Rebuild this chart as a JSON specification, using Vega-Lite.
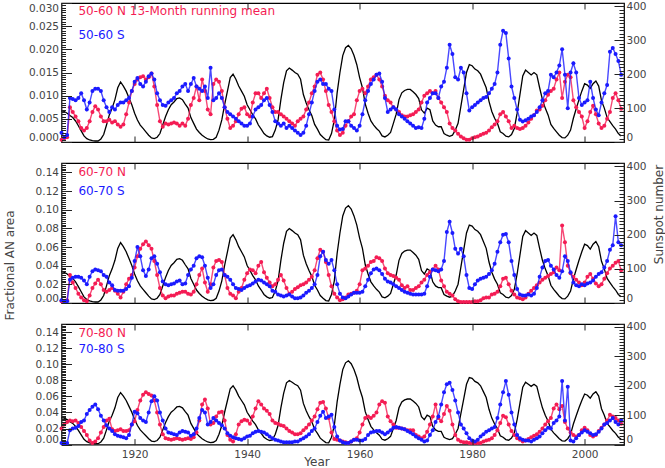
{
"$schema":"https://vega.github.io/schema/vega-lite/v6.json",
"padding":{"left":2.5,"top":0,"right":0,"bottom":0},
"background":"white",
"bounds":"flush",
"spacing":21,
"config":{
"view":{"stroke":"#000","strokeWidth":1.2},
"axis":{"grid":false,"domain":false,"ticks":true,"tickColor":"#222","tickWidth":1,"labelFont":"DejaVu Sans","labelFontSize":10.5,"labelColor":"#444","titleFont":"DejaVu Sans","titleFontSize":12,"titleFontWeight":"normal","titleColor":"#444"}
},
"data":{"values":[
{"t":1907.0,"ssn":92,"n5":0.0005,"s5":0.002,"n6":0.002,"s6":0.003,"n7":0.02,"s7":0.002},
{"t":1907.5,"ssn":90,"n5":0.0008,"s5":0.001,"n6":0.002,"s6":0.002,"n7":0.025,"s7":0.001},
{"t":1908.0,"ssn":85,"n5":0.001,"s5":0.0015,"n6":0.003,"s6":0.002,"n7":0.028,"s7":0.002},
{"t":1908.5,"ssn":78,"n5":0.0075,"s5":0.0095,"n6":0.03,"s6":0.025,"n7":0.03,"s7":0.018},
{"t":1909.0,"ssn":72,"n5":0.0065,"s5":0.0093,"n6":0.022,"s6":0.027,"n7":0.029,"s7":0.02},
{"t":1909.5,"ssn":62,"n5":0.0055,"s5":0.009,"n6":0.016,"s6":0.028,"n7":0.03,"s7":0.021},
{"t":1910.0,"ssn":48,"n5":0.0045,"s5":0.0095,"n6":0.01,"s6":0.028,"n7":0.027,"s7":0.023},
{"t":1910.5,"ssn":33,"n5":0.003,"s5":0.0105,"n6":0.006,"s6":0.027,"n7":0.022,"s7":0.028},
{"t":1911.0,"ssn":18,"n5":0.0025,"s5":0.009,"n6":0.003,"s6":0.024,"n7":0.017,"s7":0.03},
{"t":1911.5,"ssn":10,"n5":0.003,"s5":0.007,"n6":0.002,"s6":0.02,"n7":0.012,"s7":0.038},
{"t":1912.0,"ssn":6,"n5":0.0045,"s5":0.0085,"n6":0.008,"s6":0.028,"n7":0.005,"s7":0.043},
{"t":1912.5,"ssn":4,"n5":0.0065,"s5":0.011,"n6":0.016,"s6":0.034,"n7":0.002,"s7":0.047},
{"t":1913.0,"ssn":3,"n5":0.0077,"s5":0.0115,"n6":0.021,"s6":0.036,"n7":0.004,"s7":0.05},
{"t":1913.5,"ssn":3,"n5":0.007,"s5":0.0115,"n6":0.025,"s6":0.035,"n7":0.008,"s7":0.044},
{"t":1914.0,"ssn":9,"n5":0.0055,"s5":0.011,"n6":0.02,"s6":0.034,"n7":0.015,"s7":0.036},
{"t":1914.5,"ssn":22,"n5":0.0045,"s5":0.009,"n6":0.014,"s6":0.03,"n7":0.022,"s7":0.03},
{"t":1915.0,"ssn":50,"n5":0.0045,"s5":0.0075,"n6":0.012,"s6":0.028,"n7":0.03,"s7":0.024},
{"t":1915.5,"ssn":80,"n5":0.0048,"s5":0.0065,"n6":0.014,"s6":0.022,"n7":0.032,"s7":0.02},
{"t":1916.0,"ssn":100,"n5":0.0042,"s5":0.0075,"n6":0.016,"s6":0.019,"n7":0.019,"s7":0.017},
{"t":1916.5,"ssn":125,"n5":0.0045,"s5":0.007,"n6":0.013,"s6":0.014,"n7":0.017,"s7":0.013},
{"t":1917.0,"ssn":160,"n5":0.0038,"s5":0.008,"n6":0.01,"s6":0.013,"n7":0.018,"s7":0.011},
{"t":1917.5,"ssn":177,"n5":0.0033,"s5":0.0085,"n6":0.006,"s6":0.013,"n7":0.019,"s7":0.01},
{"t":1918.0,"ssn":165,"n5":0.0038,"s5":0.0085,"n6":0.012,"s6":0.013,"n7":0.017,"s7":0.009},
{"t":1918.5,"ssn":150,"n5":0.006,"s5":0.009,"n6":0.02,"s6":0.015,"n7":0.017,"s7":0.008},
{"t":1919.0,"ssn":130,"n5":0.0085,"s5":0.0095,"n6":0.026,"s6":0.018,"n7":0.018,"s7":0.012},
{"t":1919.5,"ssn":110,"n5":0.011,"s5":0.011,"n6":0.03,"s6":0.027,"n7":0.025,"s7":0.025},
{"t":1920.0,"ssn":85,"n5":0.0125,"s5":0.013,"n6":0.038,"s6":0.045,"n7":0.029,"s7":0.041},
{"t":1920.5,"ssn":65,"n5":0.0135,"s5":0.0138,"n6":0.05,"s6":0.06,"n7":0.043,"s7":0.039},
{"t":1921.0,"ssn":50,"n5":0.014,"s5":0.0125,"n6":0.058,"s6":0.05,"n7":0.055,"s7":0.033},
{"t":1921.5,"ssn":40,"n5":0.0142,"s5":0.012,"n6":0.063,"s6":0.035,"n7":0.062,"s7":0.03},
{"t":1922.0,"ssn":30,"n5":0.0135,"s5":0.013,"n6":0.066,"s6":0.029,"n7":0.065,"s7":0.028},
{"t":1922.5,"ssn":20,"n5":0.014,"s5":0.0142,"n6":0.062,"s6":0.036,"n7":0.063,"s7":0.04},
{"t":1923.0,"ssn":12,"n5":0.0148,"s5":0.0148,"n6":0.058,"s6":0.048,"n7":0.061,"s7":0.054},
{"t":1923.5,"ssn":10,"n5":0.012,"s5":0.0135,"n6":0.045,"s6":0.05,"n7":0.055,"s7":0.06},
{"t":1924.0,"ssn":14,"n5":0.008,"s5":0.0105,"n6":0.03,"s6":0.042,"n7":0.04,"s7":0.055},
{"t":1924.5,"ssn":25,"n5":0.0045,"s5":0.009,"n6":0.016,"s6":0.033,"n7":0.025,"s7":0.04},
{"t":1925.0,"ssn":50,"n5":0.0033,"s5":0.008,"n6":0.008,"s6":0.023,"n7":0.013,"s7":0.03},
{"t":1925.5,"ssn":75,"n5":0.004,"s5":0.0078,"n6":0.005,"s6":0.02,"n7":0.008,"s7":0.02},
{"t":1926.0,"ssn":95,"n5":0.0038,"s5":0.0085,"n6":0.007,"s6":0.019,"n7":0.007,"s7":0.015},
{"t":1926.5,"ssn":110,"n5":0.004,"s5":0.009,"n6":0.008,"s6":0.02,"n7":0.006,"s7":0.014},
{"t":1927.0,"ssn":118,"n5":0.0042,"s5":0.0095,"n6":0.008,"s6":0.021,"n7":0.007,"s7":0.013},
{"t":1927.5,"ssn":128,"n5":0.004,"s5":0.0105,"n6":0.01,"s6":0.023,"n7":0.008,"s7":0.012},
{"t":1928.0,"ssn":130,"n5":0.0035,"s5":0.011,"n6":0.011,"s6":0.024,"n7":0.007,"s7":0.015},
{"t":1928.5,"ssn":125,"n5":0.004,"s5":0.012,"n6":0.012,"s6":0.02,"n7":0.006,"s7":0.017},
{"t":1929.0,"ssn":112,"n5":0.0035,"s5":0.0125,"n6":0.012,"s6":0.021,"n7":0.007,"s7":0.016},
{"t":1929.5,"ssn":100,"n5":0.005,"s5":0.011,"n6":0.01,"s6":0.03,"n7":0.008,"s7":0.015},
{"t":1930.0,"ssn":72,"n5":0.008,"s5":0.0125,"n6":0.009,"s6":0.036,"n7":0.007,"s7":0.011},
{"t":1930.5,"ssn":55,"n5":0.0095,"s5":0.0138,"n6":0.012,"s6":0.04,"n7":0.009,"s7":0.013},
{"t":1931.0,"ssn":38,"n5":0.012,"s5":0.012,"n6":0.02,"s6":0.048,"n7":0.015,"s7":0.02},
{"t":1931.5,"ssn":28,"n5":0.009,"s5":0.0115,"n6":0.03,"s6":0.05,"n7":0.03,"s7":0.033},
{"t":1932.0,"ssn":20,"n5":0.0135,"s5":0.011,"n6":0.037,"s6":0.049,"n7":0.05,"s7":0.043},
{"t":1932.5,"ssn":14,"n5":0.011,"s5":0.012,"n6":0.022,"s6":0.04,"n7":0.056,"s7":0.04},
{"t":1933.0,"ssn":9,"n5":0.007,"s5":0.0095,"n6":0.012,"s6":0.027,"n7":0.045,"s7":0.025},
{"t":1933.5,"ssn":7,"n5":0.006,"s5":0.016,"n6":0.02,"s6":0.016,"n7":0.025,"s7":0.028},
{"t":1934.0,"ssn":8,"n5":0.0125,"s5":0.009,"n6":0.038,"s6":0.02,"n7":0.027,"s7":0.033},
{"t":1934.5,"ssn":14,"n5":0.0135,"s5":0.0095,"n6":0.045,"s6":0.03,"n7":0.035,"s7":0.03},
{"t":1935.0,"ssn":35,"n5":0.013,"s5":0.0105,"n6":0.046,"s6":0.035,"n7":0.04,"s7":0.027},
{"t":1935.5,"ssn":65,"n5":0.011,"s5":0.0095,"n6":0.044,"s6":0.036,"n7":0.041,"s7":0.024},
{"t":1936.0,"ssn":110,"n5":0.0075,"s5":0.0075,"n6":0.03,"s6":0.03,"n7":0.03,"s7":0.02},
{"t":1936.5,"ssn":150,"n5":0.005,"s5":0.0065,"n6":0.016,"s6":0.028,"n7":0.012,"s7":0.014},
{"t":1937.0,"ssn":190,"n5":0.003,"s5":0.006,"n6":0.01,"s6":0.025,"n7":0.006,"s7":0.011},
{"t":1937.5,"ssn":200,"n5":0.0035,"s5":0.0055,"n6":0.008,"s6":0.02,"n7":0.004,"s7":0.009},
{"t":1938.0,"ssn":185,"n5":0.0045,"s5":0.005,"n6":0.005,"s6":0.016,"n7":0.013,"s7":0.008},
{"t":1938.5,"ssn":165,"n5":0.006,"s5":0.0045,"n6":0.012,"s6":0.015,"n7":0.025,"s7":0.007},
{"t":1939.0,"ssn":150,"n5":0.0072,"s5":0.004,"n6":0.016,"s6":0.014,"n7":0.029,"s7":0.006},
{"t":1939.5,"ssn":135,"n5":0.0075,"s5":0.0035,"n6":0.025,"s6":0.016,"n7":0.031,"s7":0.008},
{"t":1940.0,"ssn":110,"n5":0.006,"s5":0.0035,"n6":0.032,"s6":0.018,"n7":0.03,"s7":0.01},
{"t":1940.5,"ssn":95,"n5":0.0055,"s5":0.004,"n6":0.036,"s6":0.019,"n7":0.026,"s7":0.011},
{"t":1941.0,"ssn":80,"n5":0.0085,"s5":0.0055,"n6":0.035,"s6":0.021,"n7":0.035,"s7":0.014},
{"t":1941.5,"ssn":68,"n5":0.0105,"s5":0.007,"n6":0.032,"s6":0.023,"n7":0.045,"s7":0.016},
{"t":1942.0,"ssn":50,"n5":0.0105,"s5":0.0075,"n6":0.04,"s6":0.025,"n7":0.054,"s7":0.017},
{"t":1942.5,"ssn":38,"n5":0.0095,"s5":0.008,"n6":0.044,"s6":0.024,"n7":0.05,"s7":0.016},
{"t":1943.0,"ssn":25,"n5":0.0105,"s5":0.009,"n6":0.033,"s6":0.022,"n7":0.045,"s7":0.015},
{"t":1943.5,"ssn":18,"n5":0.0115,"s5":0.0095,"n6":0.027,"s6":0.02,"n7":0.042,"s7":0.013},
{"t":1944.0,"ssn":14,"n5":0.0095,"s5":0.008,"n6":0.022,"s6":0.018,"n7":0.038,"s7":0.01},
{"t":1944.5,"ssn":16,"n5":0.0075,"s5":0.0065,"n6":0.018,"s6":0.013,"n7":0.03,"s7":0.008},
{"t":1945.0,"ssn":35,"n5":0.0065,"s5":0.0045,"n6":0.02,"s6":0.012,"n7":0.027,"s7":0.006},
{"t":1945.5,"ssn":65,"n5":0.0065,"s5":0.004,"n6":0.025,"s6":0.009,"n7":0.026,"s7":0.005},
{"t":1946.0,"ssn":125,"n5":0.006,"s5":0.0035,"n6":0.03,"s6":0.008,"n7":0.024,"s7":0.004},
{"t":1946.5,"ssn":175,"n5":0.0055,"s5":0.004,"n6":0.024,"s6":0.007,"n7":0.023,"s7":0.003},
{"t":1947.0,"ssn":210,"n5":0.005,"s5":0.003,"n6":0.016,"s6":0.008,"n7":0.02,"s7":0.003},
{"t":1947.5,"ssn":218,"n5":0.0045,"s5":0.0035,"n6":0.01,"s6":0.009,"n7":0.017,"s7":0.003},
{"t":1948.0,"ssn":212,"n5":0.004,"s5":0.003,"n6":0.012,"s6":0.007,"n7":0.015,"s7":0.003},
{"t":1948.5,"ssn":205,"n5":0.0035,"s5":0.0025,"n6":0.015,"s6":0.005,"n7":0.013,"s7":0.004},
{"t":1949.0,"ssn":200,"n5":0.0045,"s5":0.002,"n6":0.017,"s6":0.005,"n7":0.013,"s7":0.004},
{"t":1949.5,"ssn":185,"n5":0.005,"s5":0.0015,"n6":0.019,"s6":0.006,"n7":0.014,"s7":0.006},
{"t":1950.0,"ssn":140,"n5":0.0055,"s5":0.002,"n6":0.02,"s6":0.008,"n7":0.018,"s7":0.008},
{"t":1950.5,"ssn":115,"n5":0.007,"s5":0.0035,"n6":0.022,"s6":0.011,"n7":0.021,"s7":0.01},
{"t":1951.0,"ssn":95,"n5":0.0085,"s5":0.006,"n6":0.025,"s6":0.013,"n7":0.025,"s7":0.013},
{"t":1951.5,"ssn":78,"n5":0.0105,"s5":0.0085,"n6":0.028,"s6":0.016,"n7":0.03,"s7":0.017},
{"t":1952.0,"ssn":52,"n5":0.012,"s5":0.011,"n6":0.035,"s6":0.02,"n7":0.035,"s7":0.02},
{"t":1952.5,"ssn":38,"n5":0.0145,"s5":0.013,"n6":0.048,"s6":0.03,"n7":0.044,"s7":0.028},
{"t":1953.0,"ssn":22,"n5":0.015,"s5":0.0135,"n6":0.057,"s6":0.05,"n7":0.052,"s7":0.036},
{"t":1953.5,"ssn":14,"n5":0.0135,"s5":0.0125,"n6":0.055,"s6":0.055,"n7":0.053,"s7":0.041},
{"t":1954.0,"ssn":7,"n5":0.011,"s5":0.0125,"n6":0.044,"s6":0.046,"n7":0.045,"s7":0.033},
{"t":1954.5,"ssn":6,"n5":0.008,"s5":0.0115,"n6":0.03,"s6":0.042,"n7":0.033,"s7":0.035},
{"t":1955.0,"ssn":25,"n5":0.0065,"s5":0.011,"n6":0.018,"s6":0.046,"n7":0.015,"s7":0.037},
{"t":1955.5,"ssn":65,"n5":0.0045,"s5":0.007,"n6":0.01,"s6":0.035,"n7":0.007,"s7":0.022},
{"t":1956.0,"ssn":145,"n5":0.0025,"s5":0.0035,"n6":0.006,"s6":0.02,"n7":0.006,"s7":0.01},
{"t":1956.5,"ssn":205,"n5":0.0015,"s5":0.0027,"n6":0.003,"s6":0.01,"n7":0.005,"s7":0.005},
{"t":1957.0,"ssn":255,"n5":0.002,"s5":0.0028,"n6":0.004,"s6":0.006,"n7":0.004,"s7":0.003},
{"t":1957.5,"ssn":278,"n5":0.0035,"s5":0.0045,"n6":0.006,"s6":0.005,"n7":0.003,"s7":0.002},
{"t":1958.0,"ssn":285,"n5":0.0045,"s5":0.0045,"n6":0.009,"s6":0.007,"n7":0.002,"s7":0.002},
{"t":1958.5,"ssn":275,"n5":0.0055,"s5":0.0035,"n6":0.01,"s6":0.009,"n7":0.004,"s7":0.004},
{"t":1959.0,"ssn":255,"n5":0.006,"s5":0.003,"n6":0.011,"s6":0.011,"n7":0.006,"s7":0.006},
{"t":1959.5,"ssn":228,"n5":0.009,"s5":0.0025,"n6":0.013,"s6":0.011,"n7":0.008,"s7":0.006},
{"t":1960.0,"ssn":190,"n5":0.011,"s5":0.0035,"n6":0.02,"s6":0.011,"n7":0.015,"s7":0.005},
{"t":1960.5,"ssn":160,"n5":0.0115,"s5":0.006,"n6":0.035,"s6":0.012,"n7":0.025,"s7":0.005},
{"t":1961.0,"ssn":112,"n5":0.0105,"s5":0.009,"n6":0.037,"s6":0.018,"n7":0.033,"s7":0.007},
{"t":1961.5,"ssn":85,"n5":0.012,"s5":0.011,"n6":0.04,"s6":0.025,"n7":0.035,"s7":0.012},
{"t":1962.0,"ssn":62,"n5":0.0135,"s5":0.0125,"n6":0.044,"s6":0.032,"n7":0.033,"s7":0.015},
{"t":1962.5,"ssn":50,"n5":0.014,"s5":0.0135,"n6":0.045,"s6":0.036,"n7":0.036,"s7":0.016},
{"t":1963.0,"ssn":40,"n5":0.0145,"s5":0.0145,"n6":0.049,"s6":0.037,"n7":0.04,"s7":0.017},
{"t":1963.5,"ssn":32,"n5":0.0135,"s5":0.0148,"n6":0.048,"s6":0.035,"n7":0.05,"s7":0.017},
{"t":1964.0,"ssn":18,"n5":0.012,"s5":0.013,"n6":0.045,"s6":0.031,"n7":0.054,"s7":0.015},
{"t":1964.5,"ssn":15,"n5":0.01,"s5":0.0095,"n6":0.037,"s6":0.026,"n7":0.052,"s7":0.013},
{"t":1965.0,"ssn":20,"n5":0.009,"s5":0.0065,"n6":0.032,"s6":0.023,"n7":0.035,"s7":0.015},
{"t":1965.5,"ssn":28,"n5":0.0085,"s5":0.007,"n6":0.03,"s6":0.022,"n7":0.029,"s7":0.018},
{"t":1966.0,"ssn":55,"n5":0.0075,"s5":0.0075,"n6":0.029,"s6":0.02,"n7":0.025,"s7":0.021},
{"t":1966.5,"ssn":82,"n5":0.007,"s5":0.007,"n6":0.027,"s6":0.018,"n7":0.021,"s7":0.022},
{"t":1967.0,"ssn":125,"n5":0.0065,"s5":0.006,"n6":0.025,"s6":0.016,"n7":0.021,"s7":0.021},
{"t":1967.5,"ssn":145,"n5":0.0058,"s5":0.0055,"n6":0.019,"s6":0.014,"n7":0.02,"s7":0.02},
{"t":1968.0,"ssn":152,"n5":0.0055,"s5":0.005,"n6":0.016,"s6":0.012,"n7":0.019,"s7":0.019},
{"t":1968.5,"ssn":155,"n5":0.0055,"s5":0.0045,"n6":0.018,"s6":0.011,"n7":0.018,"s7":0.017},
{"t":1969.0,"ssn":155,"n5":0.0058,"s5":0.004,"n6":0.014,"s6":0.01,"n7":0.018,"s7":0.015},
{"t":1969.5,"ssn":148,"n5":0.006,"s5":0.0035,"n6":0.014,"s6":0.009,"n7":0.018,"s7":0.013},
{"t":1970.0,"ssn":140,"n5":0.0065,"s5":0.003,"n6":0.016,"s6":0.009,"n7":0.012,"s7":0.01},
{"t":1970.5,"ssn":128,"n5":0.007,"s5":0.0032,"n6":0.018,"s6":0.009,"n7":0.01,"s7":0.008},
{"t":1971.0,"ssn":95,"n5":0.0085,"s5":0.003,"n6":0.022,"s6":0.009,"n7":0.008,"s7":0.006},
{"t":1971.5,"ssn":85,"n5":0.01,"s5":0.005,"n6":0.025,"s6":0.01,"n7":0.01,"s7":0.004},
{"t":1972.0,"ssn":100,"n5":0.0105,"s5":0.0085,"n6":0.03,"s6":0.018,"n7":0.016,"s7":0.005},
{"t":1972.5,"ssn":95,"n5":0.011,"s5":0.0095,"n6":0.033,"s6":0.028,"n7":0.025,"s7":0.012},
{"t":1973.0,"ssn":62,"n5":0.0105,"s5":0.0105,"n6":0.036,"s6":0.036,"n7":0.035,"s7":0.018},
{"t":1973.5,"ssn":50,"n5":0.011,"s5":0.0105,"n6":0.04,"s6":0.035,"n7":0.05,"s7":0.028},
{"t":1974.0,"ssn":45,"n5":0.0095,"s5":0.0095,"n6":0.036,"s6":0.034,"n7":0.033,"s7":0.035},
{"t":1974.5,"ssn":45,"n5":0.0085,"s5":0.012,"n6":0.024,"s6":0.036,"n7":0.029,"s7":0.05},
{"t":1975.0,"ssn":25,"n5":0.0075,"s5":0.013,"n6":0.018,"s6":0.045,"n7":0.038,"s7":0.065},
{"t":1975.5,"ssn":20,"n5":0.0065,"s5":0.016,"n6":0.012,"s6":0.076,"n7":0.048,"s7":0.075},
{"t":1976.0,"ssn":17,"n5":0.004,"s5":0.021,"n6":0.01,"s6":0.087,"n7":0.042,"s7":0.077},
{"t":1976.5,"ssn":20,"n5":0.003,"s5":0.019,"n6":0.008,"s6":0.075,"n7":0.025,"s7":0.068},
{"t":1977.0,"ssn":35,"n5":0.0025,"s5":0.014,"n6":0.004,"s6":0.058,"n7":0.012,"s7":0.055},
{"t":1977.5,"ssn":55,"n5":0.0018,"s5":0.0135,"n6":0.002,"s6":0.053,"n7":0.006,"s7":0.04},
{"t":1978.0,"ssn":105,"n5":0.0012,"s5":0.016,"n6":0.001,"s6":0.058,"n7":0.004,"s7":0.025},
{"t":1978.5,"ssn":155,"n5":0.0008,"s5":0.015,"n6":0.001,"s6":0.05,"n7":0.003,"s7":0.02},
{"t":1979.0,"ssn":205,"n5":0.0005,"s5":0.0105,"n6":0.001,"s6":0.03,"n7":0.003,"s7":0.014},
{"t":1979.5,"ssn":228,"n5":0.0005,"s5":0.0068,"n6":0.001,"s6":0.016,"n7":0.002,"s7":0.008},
{"t":1980.0,"ssn":225,"n5":0.0008,"s5":0.0075,"n6":0.001,"s6":0.015,"n7":0.002,"s7":0.005},
{"t":1980.5,"ssn":215,"n5":0.001,"s5":0.008,"n6":0.002,"s6":0.02,"n7":0.002,"s7":0.004},
{"t":1981.0,"ssn":210,"n5":0.0012,"s5":0.0085,"n6":0.002,"s6":0.024,"n7":0.002,"s7":0.006},
{"t":1981.5,"ssn":200,"n5":0.0015,"s5":0.009,"n6":0.003,"s6":0.026,"n7":0.002,"s7":0.01},
{"t":1982.0,"ssn":180,"n5":0.0018,"s5":0.0095,"n6":0.005,"s6":0.027,"n7":0.004,"s7":0.013},
{"t":1982.5,"ssn":160,"n5":0.002,"s5":0.0097,"n6":0.006,"s6":0.028,"n7":0.005,"s7":0.016},
{"t":1983.0,"ssn":120,"n5":0.0025,"s5":0.0105,"n6":0.006,"s6":0.031,"n7":0.006,"s7":0.018},
{"t":1983.5,"ssn":90,"n5":0.0032,"s5":0.0115,"n6":0.009,"s6":0.035,"n7":0.008,"s7":0.02},
{"t":1984.0,"ssn":70,"n5":0.0038,"s5":0.0125,"n6":0.01,"s6":0.042,"n7":0.012,"s7":0.022},
{"t":1984.5,"ssn":55,"n5":0.0045,"s5":0.015,"n6":0.012,"s6":0.055,"n7":0.018,"s7":0.033},
{"t":1985.0,"ssn":30,"n5":0.006,"s5":0.021,"n6":0.018,"s6":0.065,"n7":0.027,"s7":0.05},
{"t":1985.5,"ssn":25,"n5":0.0065,"s5":0.024,"n6":0.026,"s6":0.073,"n7":0.036,"s7":0.065},
{"t":1986.0,"ssn":17,"n5":0.0055,"s5":0.0235,"n6":0.027,"s6":0.074,"n7":0.034,"s7":0.079},
{"t":1986.5,"ssn":15,"n5":0.0045,"s5":0.018,"n6":0.02,"s6":0.065,"n7":0.025,"s7":0.062},
{"t":1987.0,"ssn":22,"n5":0.003,"s5":0.012,"n6":0.013,"s6":0.045,"n7":0.017,"s7":0.04},
{"t":1987.5,"ssn":40,"n5":0.0035,"s5":0.0095,"n6":0.009,"s6":0.03,"n7":0.012,"s7":0.025},
{"t":1988.0,"ssn":85,"n5":0.003,"s5":0.007,"n6":0.006,"s6":0.015,"n7":0.008,"s7":0.012},
{"t":1988.5,"ssn":140,"n5":0.0028,"s5":0.0048,"n6":0.005,"s6":0.009,"n7":0.006,"s7":0.008},
{"t":1989.0,"ssn":195,"n5":0.003,"s5":0.0044,"n6":0.004,"s6":0.008,"n7":0.004,"s7":0.006},
{"t":1989.5,"ssn":212,"n5":0.0035,"s5":0.0047,"n6":0.006,"s6":0.008,"n7":0.005,"s7":0.005},
{"t":1990.0,"ssn":205,"n5":0.0042,"s5":0.005,"n6":0.01,"s6":0.009,"n7":0.007,"s7":0.005},
{"t":1990.5,"ssn":198,"n5":0.005,"s5":0.0055,"n6":0.013,"s6":0.008,"n7":0.009,"s7":0.004},
{"t":1991.0,"ssn":205,"n5":0.0058,"s5":0.0058,"n6":0.016,"s6":0.01,"n7":0.011,"s7":0.006},
{"t":1991.5,"ssn":198,"n5":0.0068,"s5":0.0065,"n6":0.019,"s6":0.016,"n7":0.013,"s7":0.008},
{"t":1992.0,"ssn":160,"n5":0.007,"s5":0.0075,"n6":0.022,"s6":0.028,"n7":0.016,"s7":0.01},
{"t":1992.5,"ssn":125,"n5":0.0078,"s5":0.009,"n6":0.025,"s6":0.038,"n7":0.02,"s7":0.014},
{"t":1993.0,"ssn":100,"n5":0.009,"s5":0.0105,"n6":0.027,"s6":0.045,"n7":0.025,"s7":0.018},
{"t":1993.5,"ssn":80,"n5":0.0102,"s5":0.011,"n6":0.029,"s6":0.046,"n7":0.029,"s7":0.021},
{"t":1994.0,"ssn":52,"n5":0.011,"s5":0.0145,"n6":0.031,"s6":0.04,"n7":0.033,"s7":0.02},
{"t":1994.5,"ssn":40,"n5":0.0115,"s5":0.014,"n6":0.033,"s6":0.036,"n7":0.045,"s7":0.027},
{"t":1995.0,"ssn":30,"n5":0.0135,"s5":0.015,"n6":0.038,"s6":0.03,"n7":0.05,"s7":0.03},
{"t":1995.5,"ssn":20,"n5":0.015,"s5":0.0165,"n6":0.035,"s6":0.027,"n7":0.044,"s7":0.035},
{"t":1996.0,"ssn":13,"n5":0.0095,"s5":0.02,"n6":0.083,"s6":0.034,"n7":0.048,"s7":0.079},
{"t":1996.5,"ssn":12,"n5":0.013,"s5":0.0145,"n6":0.065,"s6":0.05,"n7":0.028,"s7":0.03},
{"t":1997.0,"ssn":20,"n5":0.0145,"s5":0.0073,"n6":0.04,"s6":0.045,"n7":0.02,"s7":0.072},
{"t":1997.5,"ssn":35,"n5":0.014,"s5":0.015,"n6":0.032,"s6":0.033,"n7":0.015,"s7":0.005},
{"t":1998.0,"ssn":70,"n5":0.009,"s5":0.017,"n6":0.028,"s6":0.022,"n7":0.012,"s7":0.004},
{"t":1998.5,"ssn":98,"n5":0.0075,"s5":0.015,"n6":0.025,"s6":0.019,"n7":0.01,"s7":0.008},
{"t":1999.0,"ssn":125,"n5":0.0065,"s5":0.0095,"n6":0.022,"s6":0.018,"n7":0.012,"s7":0.012},
{"t":1999.5,"ssn":150,"n5":0.0055,"s5":0.008,"n6":0.019,"s6":0.02,"n7":0.018,"s7":0.015},
{"t":2000.0,"ssn":172,"n5":0.003,"s5":0.0085,"n6":0.022,"s6":0.019,"n7":0.021,"s7":0.018},
{"t":2000.5,"ssn":168,"n5":0.0045,"s5":0.009,"n6":0.028,"s6":0.021,"n7":0.018,"s7":0.016},
{"t":2001.0,"ssn":158,"n5":0.0065,"s5":0.013,"n6":0.031,"s6":0.022,"n7":0.012,"s7":0.014},
{"t":2001.5,"ssn":172,"n5":0.0078,"s5":0.0095,"n6":0.026,"s6":0.024,"n7":0.01,"s7":0.012},
{"t":2002.0,"ssn":180,"n5":0.006,"s5":0.007,"n6":0.021,"s6":0.028,"n7":0.012,"s7":0.013},
{"t":2002.5,"ssn":165,"n5":0.004,"s5":0.0058,"n6":0.018,"s6":0.031,"n7":0.017,"s7":0.016},
{"t":2003.0,"ssn":122,"n5":0.003,"s5":0.0085,"n6":0.02,"s6":0.033,"n7":0.021,"s7":0.02},
{"t":2003.5,"ssn":100,"n5":0.0035,"s5":0.0105,"n6":0.026,"s6":0.038,"n7":0.025,"s7":0.025},
{"t":2004.0,"ssn":72,"n5":0.005,"s5":0.0123,"n6":0.032,"s6":0.045,"n7":0.03,"s7":0.027},
{"t":2004.5,"ssn":60,"n5":0.0065,"s5":0.0195,"n6":0.037,"s6":0.057,"n7":0.037,"s7":0.03},
{"t":2005.0,"ssn":48,"n5":0.0095,"s5":0.0203,"n6":0.04,"s6":0.062,"n7":0.035,"s7":0.033},
{"t":2005.5,"ssn":38,"n5":0.0105,"s5":0.019,"n6":0.043,"s6":0.093,"n7":0.033,"s7":0.028},
{"t":2006.0,"ssn":25,"n5":0.009,"s5":0.0175,"n6":0.045,"s6":0.065,"n7":0.03,"s7":0.025},
{"t":2006.5,"ssn":18,"n5":0.0072,"s5":0.0145,"n6":0.035,"s6":0.062,"n7":0.026,"s7":0.03}
]},
"vconcat":[
{"width":562.5,"height":139,
"layer":[
{"mark":{"type":"line","color":"#000","strokeWidth":1.3},
"encoding":{"x":{"field":"t","type":"quantitative","scale":{"domain":[1907,2007],"nice":false,"zero":false},"axis":null},
"y":{"field":"ssn","type":"quantitative","scale":{"domain":[0,410],"nice":false},"axis":{"orient":"right","values":[0,100,200,300,400],"format":"d","tickSize":10,"offset":-10,"labelPadding":2,"labelFlush":true,"title":null,"zindex":1}}}},
{"mark":{"type":"line","color":"#f41c54","strokeWidth":1.4,"strokeOpacity":0.8,"point":{"filled":true,"size":16,"color":"#f41c54","opacity":1}},
"encoding":{"x":{"field":"t","type":"quantitative","scale":{"domain":[1907,2007],"nice":false,"zero":false},"axis":{"orient":"bottom","values":[1920,1940,1960,1980,2000],"tickSize":6,"offset":-6,"labels":false,"title":null,"zindex":1}},
"y":{"field":"n5","type":"quantitative","scale":{"domain":[0,0.03],"nice":false},"axis":{"orient":"left","values":[0,0.005,0.01,0.015,0.02,0.025,0.03],"format":".3f","tickSize":10,"offset":-10,"labelPadding":3,"labelFlush":true,"title":null,"zindex":1}}}},
{"mark":{"type":"line","color":"#1a1aff","strokeWidth":1.4,"strokeOpacity":0.8,"point":{"filled":true,"size":16,"color":"#1a1aff","opacity":1}},
"encoding":{"x":{"field":"t","type":"quantitative","scale":{"domain":[1907,2007],"nice":false,"zero":false},"axis":{"orient":"top","values":[1920,1940,1960,1980,2000],"tickSize":6,"offset":-6,"labels":false,"title":null,"zindex":1}},
"y":{"field":"s5","type":"quantitative","scale":{"domain":[0,0.03],"nice":false},"axis":{"orient":"left","tickCount":60,"tickSize":4,"offset":-4,"labels":false,"title":null,"zindex":1}}}},
{"data":{"values":[{}]},"mark":{"type":"text","text":"50-60 N 13-Month running mean","color":"#f41c54","align":"left","baseline":"middle","font":"DejaVu Sans","fontSize":12},
"encoding":{"x":{"datum":1910,"type":"quantitative","scale":{"domain":[1907,2007],"nice":false,"zero":false},"axis":null},
"y":{"datum":386,"type":"quantitative","scale":{"domain":[0,410],"nice":false},"axis":{"orient":"right","tickCount":41,"tickSize":5,"offset":-5,"labels":false,"title":null,"zindex":1}}}},
{"data":{"values":[{}]},"mark":{"type":"text","text":"50-60 S","color":"#1a1aff","align":"left","baseline":"middle","font":"DejaVu Sans","fontSize":12},
"encoding":{"x":{"datum":1910,"type":"quantitative","scale":{"domain":[1907,2007],"nice":false,"zero":false},"axis":null},
"y":{"datum":317,"type":"quantitative","scale":{"domain":[0,410],"nice":false},"axis":null}}}
],
"resolve":{"scale":{"y":"independent"},"axis":{"x":"independent","y":"independent"}}},
{"width":562.5,"height":140,
"layer":[
{"mark":{"type":"line","color":"#000","strokeWidth":1.3},
"encoding":{"x":{"field":"t","type":"quantitative","scale":{"domain":[1907,2007],"nice":false,"zero":false},"axis":null},
"y":{"field":"ssn","type":"quantitative","scale":{"domain":[0,410],"nice":false},"axis":{"orient":"right","values":[0,100,200,300,400],"format":"d","tickSize":10,"offset":-10,"labelPadding":2,"labelFlush":true,"zindex":1,"title":"Sunspot number","titleAngle":270,"titleX":44.5,"titleY":51,"titleAlign":"center","titleBaseline":"middle"}}}},
{"mark":{"type":"line","color":"#f41c54","strokeWidth":1.4,"strokeOpacity":0.8,"point":{"filled":true,"size":16,"color":"#f41c54","opacity":1}},
"encoding":{"x":{"field":"t","type":"quantitative","scale":{"domain":[1907,2007],"nice":false,"zero":false},"axis":{"orient":"bottom","values":[1920,1940,1960,1980,2000],"tickSize":6,"offset":-6,"labels":false,"title":null,"zindex":1}},
"y":{"field":"n6","type":"quantitative","scale":{"domain":[0,0.15],"nice":false},"axis":{"orient":"left","values":[0,0.02,0.04,0.06,0.08,0.1,0.12,0.14],"format":".2f","tickSize":10,"offset":-10,"labelPadding":3,"labelFlush":true,"zindex":1,"title":"Fractional AN area","titleAngle":270,"titleX":-62,"titleY":102,"titleAlign":"center","titleBaseline":"middle"}}}},
{"mark":{"type":"line","color":"#1a1aff","strokeWidth":1.4,"strokeOpacity":0.8,"point":{"filled":true,"size":16,"color":"#1a1aff","opacity":1}},
"encoding":{"x":{"field":"t","type":"quantitative","scale":{"domain":[1907,2007],"nice":false,"zero":false},"axis":{"orient":"top","values":[1920,1940,1960,1980,2000],"tickSize":6,"offset":-6,"labels":false,"title":null,"zindex":1}},
"y":{"field":"s6","type":"quantitative","scale":{"domain":[0,0.15],"nice":false},"axis":{"orient":"left","tickCount":75,"tickSize":4,"offset":-4,"labels":false,"title":null,"zindex":1}}}},
{"data":{"values":[{}]},"mark":{"type":"text","text":"60-70 N","color":"#f41c54","align":"left","baseline":"middle","font":"DejaVu Sans","fontSize":12},
"encoding":{"x":{"datum":1910,"type":"quantitative","scale":{"domain":[1907,2007],"nice":false,"zero":false},"axis":null},
"y":{"datum":383,"type":"quantitative","scale":{"domain":[0,410],"nice":false},"axis":{"orient":"right","tickCount":41,"tickSize":5,"offset":-5,"labels":false,"title":null,"zindex":1}}}},
{"data":{"values":[{}]},"mark":{"type":"text","text":"60-70 S","color":"#1a1aff","align":"left","baseline":"middle","font":"DejaVu Sans","fontSize":12},
"encoding":{"x":{"datum":1910,"type":"quantitative","scale":{"domain":[1907,2007],"nice":false,"zero":false},"axis":null},
"y":{"datum":327,"type":"quantitative","scale":{"domain":[0,410],"nice":false},"axis":null}}}
],
"resolve":{"scale":{"y":"independent"},"axis":{"x":"independent","y":"independent"}}},
{"width":562.5,"height":120.6,
"layer":[
{"mark":{"type":"line","color":"#000","strokeWidth":1.3},
"encoding":{"x":{"field":"t","type":"quantitative","scale":{"domain":[1907,2007],"nice":false,"zero":false},"axis":null},
"y":{"field":"ssn","type":"quantitative","scale":{"domain":[0,410],"nice":false},"axis":{"orient":"right","values":[0,100,200,300,400],"format":"d","tickSize":10,"offset":-10,"labelPadding":2,"labelFlush":true,"title":null,"zindex":1}}}},
{"mark":{"type":"line","color":"#f41c54","strokeWidth":1.4,"strokeOpacity":0.8,"point":{"filled":true,"size":16,"color":"#f41c54","opacity":1}},
"encoding":{"x":{"field":"t","type":"quantitative","scale":{"domain":[1907,2007],"nice":false,"zero":false},"axis":{"orient":"bottom","values":[1920,1940,1960,1980,2000],"format":"d","tickSize":6,"offset":-6,"labelPadding":5,"zindex":1,"title":"Year","titleX":255,"titleY":23,"titleAlign":"center","titleBaseline":"middle"}},
"y":{"field":"n7","type":"quantitative","scale":{"domain":[0,0.15],"nice":false},"axis":{"orient":"left","values":[0,0.02,0.04,0.06,0.08,0.1,0.12,0.14],"format":".2f","tickSize":10,"offset":-10,"labelPadding":3,"labelFlush":true,"title":null,"zindex":1}}}},
{"mark":{"type":"line","color":"#1a1aff","strokeWidth":1.4,"strokeOpacity":0.8,"point":{"filled":true,"size":16,"color":"#1a1aff","opacity":1}},
"encoding":{"x":{"field":"t","type":"quantitative","scale":{"domain":[1907,2007],"nice":false,"zero":false},"axis":{"orient":"top","values":[1920,1940,1960,1980,2000],"tickSize":6,"offset":-6,"labels":false,"title":null,"zindex":1}},
"y":{"field":"s7","type":"quantitative","scale":{"domain":[0,0.15],"nice":false},"axis":{"orient":"left","tickCount":75,"tickSize":4,"offset":-4,"labels":false,"title":null,"zindex":1}}}},
{"data":{"values":[{}]},"mark":{"type":"text","text":"70-80 N","color":"#f41c54","align":"left","baseline":"middle","font":"DejaVu Sans","fontSize":12},
"encoding":{"x":{"datum":1910,"type":"quantitative","scale":{"domain":[1907,2007],"nice":false,"zero":false},"axis":null},
"y":{"datum":379,"type":"quantitative","scale":{"domain":[0,410],"nice":false},"axis":{"orient":"right","tickCount":41,"tickSize":5,"offset":-5,"labels":false,"title":null,"zindex":1}}}},
{"data":{"values":[{}]},"mark":{"type":"text","text":"70-80 S","color":"#1a1aff","align":"left","baseline":"middle","font":"DejaVu Sans","fontSize":12},
"encoding":{"x":{"datum":1910,"type":"quantitative","scale":{"domain":[1907,2007],"nice":false,"zero":false},"axis":null},
"y":{"datum":324,"type":"quantitative","scale":{"domain":[0,410],"nice":false},"axis":null}}}
],
"resolve":{"scale":{"y":"independent"},"axis":{"x":"independent","y":"independent"}}}
]
}
